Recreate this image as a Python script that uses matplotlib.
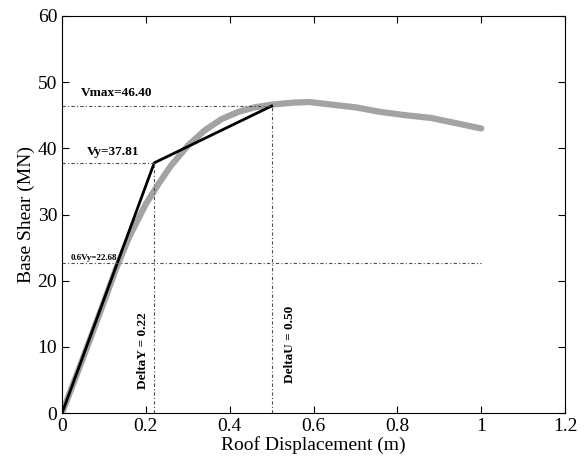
import numpy as np
import matplotlib
matplotlib.use("Agg")
import matplotlib.pyplot as plt

plt.rcParams['font.family'] = ['Liberation Serif', 'DejaVu Serif']

# pushover curve
disp = [0, 0.05, 0.10, 0.13, 0.16, 0.20, 0.23, 0.26, 0.30, 0.34, 0.38, 0.42,
        0.46, 0.50, 0.55, 0.59, 0.63, 0.70, 0.76, 0.82, 0.88, 0.94, 1.00]
shear = [0, 8.3, 16.8, 22.0, 26.6, 31.6, 34.6, 37.4, 40.4, 42.7, 44.4, 45.5,
         46.2, 46.6, 46.9, 47.0, 46.7, 46.2, 45.5, 45.0, 44.6, 43.8, 43.0]

# idealised bilinear curve
dy, du = 0.22, 0.50
vy, vmax = 37.81, 46.40
v06 = 22.68
bil_x = [0, dy, du]
bil_y = [0, vy, vmax]

fig = plt.figure(figsize=(5.85, 4.69), dpi=100)
ax = fig.add_axes([0.106, 0.119, 0.860, 0.847])

ax.plot(disp, shear, color='#a3a3a3', lw=4.5, solid_capstyle='round')
ax.plot(bil_x, bil_y, color='black', lw=2)

dot = dict(color='0.3', lw=0.8, ls=(0, (3, 2, 1, 2)))
ax.plot([0, du], [vmax, vmax], **dot)
ax.plot([0, dy], [vy, vy], **dot)
ax.plot([0, 1.0], [v06, v06], **dot)
ax.plot([dy, dy], [0, vy], **dot)
ax.plot([du, du], [0, vmax], **dot)

ax.text(0.045, 47.9, 'Vmax=%.2f' % vmax, fontsize=9.5, fontweight='bold')
ax.text(0.06, 39.0, 'Vy=%.2f' % vy, fontsize=9.5, fontweight='bold')
ax.text(0.02, 23.2, '0.6Vy=%.2f' % v06, fontsize=6.5, fontweight='bold')
ax.text(0.193, 3.6, 'DeltaY = %.2f' % dy, fontsize=9.5, fontweight='bold',
        rotation=90, ha='center', va='bottom')
ax.text(0.543, 4.6, 'DeltaU = %.2f' % du, fontsize=9.5, fontweight='bold',
        rotation=90, ha='center', va='bottom')

ax.set_xlim(0, 1.2)
ax.set_ylim(0, 60)
ax.set_xticks([0, 0.2, 0.4, 0.6, 0.8, 1, 1.2])
ax.set_xticklabels(['0', '0.2', '0.4', '0.6', '0.8', '1', '1.2'])
ax.set_yticks(range(0, 61, 10))
ax.tick_params(direction='in', top=True, right=True, labelsize=14, length=5)
ax.set_xlabel('Roof Displacement (m)', fontsize=14, labelpad=1)
ax.set_ylabel('Base Shear (MN)', fontsize=14, labelpad=2)

fig.savefig('out.png', dpi=100)
